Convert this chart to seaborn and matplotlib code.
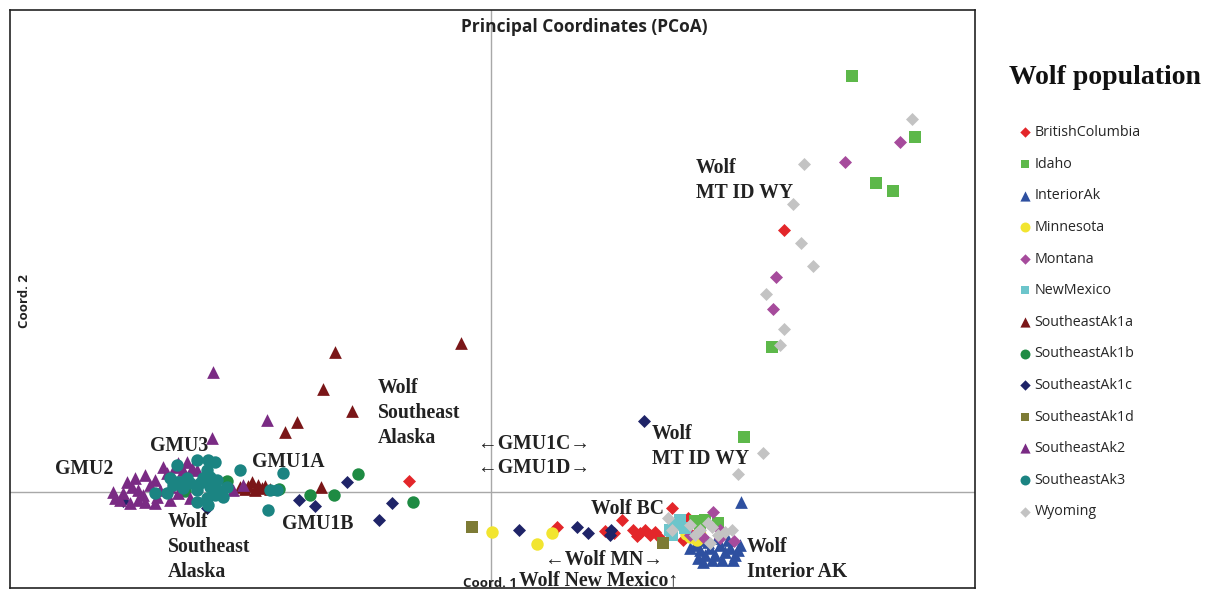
import matplotlib
matplotlib.use('Agg')
import matplotlib.pyplot as plt
import seaborn as sns
import numpy as np

sns.set_style('white')

# PCoA coordinates (Coord. 1, Coord. 2)
bc_x = [2.93, -0.82, 1.81, 0.66, 1.31, 1.14, 1.23, 1.42, 1.49, 1.54, 1.59, 1.64, 1.46, 1.97, 1.92, 2.01, 1.69]
bc_y = [2.62, 0.11, -0.16, -0.35, -0.28, -0.39, -0.41, -0.38, -0.41, -0.38, -0.43, -0.40, -0.44, -0.26, -0.48, -0.43, -0.46]

idaho_x = [3.61, 4.24, 3.85, 4.02, 2.81, 2.53, 2.04, 2.14, 2.27, 2.09]
idaho_y = [4.16, 3.55, 3.09, 3.01, 1.45, 0.55, -0.29, -0.28, -0.31, -0.35]

interior_x = [2.50, 2.04, 2.09, 2.14, 2.19, 2.24, 2.29, 2.34, 2.39, 2.44, 2.21, 2.31, 2.09, 1.99, 2.49, 2.26, 2.37, 2.17, 2.42, 2.07, 2.47, 2.12]
interior_y = [-0.10, -0.53, -0.58, -0.63, -0.56, -0.63, -0.53, -0.60, -0.56, -0.63, -0.68, -0.68, -0.48, -0.56, -0.53, -0.46, -0.48, -0.50, -0.68, -0.66, -0.58, -0.70]

mn_x = [0.01, 0.46, 0.61, 1.99, 2.06, 1.95, 2.09]
mn_y = [-0.40, -0.52, -0.41, -0.45, -0.48, -0.42, -0.43]

mt_x = [3.54, 4.09, 2.85, 2.82, 2.22, 1.99, 2.12, 2.29, 2.43, 2.29]
mt_y = [3.30, 3.50, 2.15, 1.83, -0.20, -0.43, -0.45, -0.46, -0.49, -0.38]

nm_x = [1.84, 1.79, 1.89, 1.81, 1.94]
nm_y = [-0.33, -0.38, -0.28, -0.43, -0.36]

ak1a_x = [-0.30, -1.56, -1.68, -1.39, -1.94, -2.06, -1.70, -2.43, -2.39, -2.33, -2.29, -2.36, -2.26, -2.46, -2.21, -2.51]
ak1a_y = [1.49, 1.40, 1.03, 0.81, 0.70, 0.60, 0.05, 0.06, 0.10, 0.07, 0.04, 0.02, 0.06, 0.03, 0.03, 0.05]

ak1b_x = [-1.33, -0.78, -1.57, -1.81, -2.64, -2.12, -3.06, -2.81]
ak1b_y = [0.18, -0.10, -0.03, -0.03, 0.11, 0.03, 0.01, 0.12]

ak1c_x = [1.53, 0.28, 0.86, 0.97, 1.19, 1.20, -1.44, -0.99, -1.12, -1.92, -1.76, -3.68, -2.84]
ak1c_y = [0.71, -0.38, -0.35, -0.41, -0.43, -0.38, 0.10, -0.11, -0.28, -0.08, -0.14, -0.09, -0.16]

ak1d_x = [-0.19, 1.72]
ak1d_y = [-0.35, -0.51]

ak2_x = [-2.78, -2.24, -2.79, -3.78, -3.68, -3.64, -3.56, -3.46, -3.36, -3.28, -3.13, -3.04, -2.99,
         -3.53, -3.53, -3.46, -3.36, -3.21, -3.13, -3.01, -2.58, -2.48, -3.41, -3.59, -3.31, -3.21,
         -3.71, -3.76, -3.48, -3.61, -3.34, -3.24, -3.16, -3.08, -2.94]
ak2_y = [1.20, 0.72, 0.54, 0.00, -0.01, 0.10, 0.14, 0.17, 0.12, 0.25, 0.29, 0.30, 0.24,
         0.02, -0.08, -0.10, -0.11, -0.08, -0.01, -0.06, 0.02, 0.07, 0.07, 0.05, 0.02, 0.05,
         -0.08, -0.06, -0.03, -0.11, -0.05, 0.19, 0.25, 0.22, 0.22]

ak3_x = [-3.14, -2.94, -2.83, -2.76, -2.84, -3.21, -3.11, -3.01, -2.91, -2.81, -2.73, -2.68, -2.76,
         -2.84, -2.83, -3.36, -2.94, -3.08, -3.18, -2.81, -2.51, -2.08, -2.21, -2.14, -2.23, -3.24,
         -3.04, -2.88, -2.74, -2.64, -2.94, -3.14]
ak3_y = [0.27, 0.32, 0.32, 0.30, 0.22, 0.14, 0.10, 0.09, 0.09, 0.05, 0.02, -0.05, -0.03,
         -0.06, -0.13, -0.01, 0.02, 0.04, 0.07, 0.15, 0.22, 0.19, 0.02, 0.02, -0.18, -0.01,
         0.14, 0.14, 0.12, 0.05, -0.10, 0.10]

wy_x = [4.21, 3.13, 3.02, 3.10, 3.22, 2.75, 2.93, 2.89, 2.72, 2.47, 1.77, 1.81, 1.99, 2.09, 2.17, 2.21, 2.27, 2.34, 2.41, 2.19, 2.04]
wy_y = [3.73, 3.28, 2.88, 2.49, 2.26, 1.98, 1.63, 1.47, 0.39, 0.18, -0.26, -0.38, -0.33, -0.38, -0.31, -0.35, -0.43, -0.40, -0.38, -0.51, -0.43]

populations = ['BritishColumbia', 'Idaho', 'InteriorAk', 'Minnesota', 'Montana', 'NewMexico',
               'SoutheastAk1a', 'SoutheastAk1b', 'SoutheastAk1c', 'SoutheastAk1d',
               'SoutheastAk2', 'SoutheastAk3', 'Wyoming']
xs = [bc_x, idaho_x, interior_x, mn_x, mt_x, nm_x, ak1a_x, ak1b_x, ak1c_x, ak1d_x, ak2_x, ak3_x, wy_x]
ys = [bc_y, idaho_y, interior_y, mn_y, mt_y, nm_y, ak1a_y, ak1b_y, ak1c_y, ak1d_y, ak2_y, ak3_y, wy_y]

colors = ['#E3262A', '#5DB84A', '#2E50A0', '#F2E530', '#A64B9C', '#6CC5CB', '#7A1618',
          '#1E8B43', '#1F2468', '#7D7B35', '#7A2B84', '#1B8482', '#C3C3C3']
markers = ['D', 's', '^', 'o', 'D', 's', '^', 'o', 'D', 's', '^', 'o', 'D']
sizes = {'D': 44, 's': 64, '^': 84, 'o': 80}

# annotation labels (text, coord1, coord2)
notes = [
    ('Wolf\nMT ID WY', 2.05, 3.34),
    ('Wolf\nSoutheast\nAlaska', -1.13, 1.14),
    ('GMU3', -3.41, 0.56),
    ('GMU2', -4.36, 0.33),
    ('GMU1A', -2.39, 0.40),
    ('GMU1B', -2.09, -0.22),
    ('Wolf\nSoutheast\nAlaska', -3.23, -0.20),
    ('\u2190GMU1C\u2192', -0.13, 0.58),
    ('\u2190GMU1D\u2192', -0.13, 0.34),
    ('Wolf\nMT ID WY', 1.61, 0.68),
    ('Wolf BC', 1.00, -0.07),
    ('\u2190Wolf MN\u2192', 0.54, -0.58),
    ('Wolf New Mexico\u2191', 0.28, -0.78),
    ('Wolf\nInterior AK', 2.56, -0.45),
]

fig = plt.figure(figsize=(12.08, 5.91), dpi=100)
ax = fig.add_axes([10 / 1208, 3 / 591, 965 / 1208, 578 / 591])

ax.axhline(0, color='#A8A8A8', lw=1, zorder=0)
ax.axvline(0, color='#A8A8A8', lw=1, zorder=0)

for name, x, y, c, m in zip(populations, xs, ys, colors, markers):
    sns.scatterplot(x=x, y=y, color=c, marker=m, s=sizes[m], linewidth=0,
                    label=name, ax=ax, zorder=3)

serif = ['Liberation Serif', 'DejaVu Serif']
for txt, x, y in notes:
    ax.text(x, y, txt, ha='left', va='top', fontsize=14.2, fontweight='bold',
            family=serif, color='#222222', linespacing=1.33, zorder=4)

ax.set_xlim(-4.81, 4.84)
ax.set_ylim(-0.96, 4.82)
ax.set_xticks([])
ax.set_yticks([])
ax.set_xlabel('')
ax.set_ylabel('')
for sp in ax.spines.values():
    sp.set_color('#222222')
    sp.set_linewidth(1.2)

ax.text(0.595, 0.971, 'Principal Coordinates (PCoA)', transform=ax.transAxes,
        ha='center', va='center', fontsize=12.5, fontweight='bold',
        family=['Liberation Sans Narrow', 'Open Sans'], color='#222222')
ax.text(0.0155, 0.497, 'Coord. 2', transform=ax.transAxes, rotation=90,
        ha='center', va='center', fontsize=9.5, fontweight='bold',
        family=['Open Sans'], color='#222222')
fig.text(490 / 1208, 0.001, 'Coord. 1', ha='center', va='bottom', fontsize=9.5,
         fontweight='bold', family=['Open Sans'], color='#222222')

leg = ax.legend(loc='upper left', bbox_to_anchor=(1011 / 1208, 1 - 118 / 591),
                bbox_transform=fig.transFigure, frameon=False, borderpad=0,
                labelspacing=1.16, handletextpad=0.15, handlelength=1.0,
                markerscale=0.8, prop={'family': 'Open Sans', 'size': 10.3})
fig.text(1105 / 1208, 1 - 78 / 591, 'Wolf population', ha='center', va='center',
         fontsize=20, fontweight='bold', family=serif, color='#111111')

fig.savefig('out.png', dpi=100)
